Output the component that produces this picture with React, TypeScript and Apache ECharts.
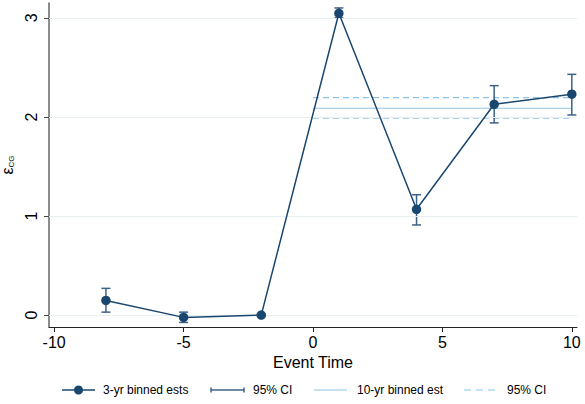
import React, { useEffect, useRef } from "react";
import * as echarts from "echarts";

const eventTimes = [-8, -5, -2, 1, 4, 7, 10];
const estimates = [0.148, -0.023, 0.0, 3.046, 1.068, 2.128, 2.23];
const ciLow = [0.03, -0.074, -0.01, 3.0, 0.91, 1.94, 2.02];
const ciHigh = [0.27, 0.03, 0.01, 3.1, 1.215, 2.316, 2.43];
const longRange = [0, 10];
const longEst = 2.088;
const longCiLow = 1.987;
const longCiHigh = 2.195;
const xTicks = [-10, -5, 0, 5, 10];
const yTicks = [0, 1, 2, 3];
const legendLabels = ["3-yr binned ests", "95% CI", "10-yr binned est", "95% CI"];

const NAVY = "#1a476f";
const CI_COLOR = "#3d6287";
const LIGHT = "#8fc3ea";
const FONT = "Liberation Sans, Arial, sans-serif";

export default function App() {
  const ref = useRef<HTMLDivElement>(null);
  useEffect(() => {
    if (!ref.current) return;
    const chart = echarts.init(ref.current, null, { renderer: "svg" });
    const ciData = eventTimes.map((x, i) => [x, ciLow[i], ciHigh[i]]);

    const ly = 390;
    const iconX = [62, 211, 314, 464];
    const iconW = 33;
    const textX = [103, 253, 357, 507];
    const legendGraphics: any[] = [];
    legendGraphics.push({ type: "line", shape: { x1: iconX[0], y1: ly, x2: iconX[0] + iconW, y2: ly }, style: { stroke: NAVY, lineWidth: 1.5 } });
    legendGraphics.push({ type: "circle", shape: { cx: iconX[0] + iconW / 2, cy: ly, r: 4.5 }, style: { fill: NAVY } });
    legendGraphics.push({ type: "line", shape: { x1: iconX[1], y1: ly, x2: iconX[1] + iconW, y2: ly }, style: { stroke: CI_COLOR, lineWidth: 1.5 } });
    legendGraphics.push({ type: "line", shape: { x1: iconX[1], y1: ly - 2.5, x2: iconX[1], y2: ly + 2.5 }, style: { stroke: CI_COLOR, lineWidth: 1.5 } });
    legendGraphics.push({ type: "line", shape: { x1: iconX[1] + iconW, y1: ly - 2.5, x2: iconX[1] + iconW, y2: ly + 2.5 }, style: { stroke: CI_COLOR, lineWidth: 1.5 } });
    legendGraphics.push({ type: "line", shape: { x1: iconX[2], y1: ly, x2: iconX[2] + iconW, y2: ly }, style: { stroke: LIGHT, lineWidth: 1.2 } });
    legendGraphics.push({ type: "line", shape: { x1: iconX[3], y1: ly, x2: iconX[3] + iconW, y2: ly }, style: { stroke: LIGHT, lineWidth: 1.2, lineDash: [7, 5] } });
    legendLabels.forEach((t, i) => {
      legendGraphics.push({
        type: "text",
        x: textX[i],
        y: ly,
        style: { text: t, fontFamily: FONT, fontSize: 12, fill: "#000", verticalAlign: "middle" },
      });
    });

    const option: any = {
      animation: false,
      backgroundColor: "#ffffff",
      grid: { left: 49, right: 8, top: 3, bottom: 77, containLabel: false, outerBoundsMode: "none" },
      graphic: legendGraphics,
      xAxis: {
        type: "value",
        min: -10.2,
        max: 10.2,
        name: "Event Time",
        nameLocation: "middle",
        nameGap: 26,
        nameTextStyle: { fontFamily: FONT, fontSize: 16, color: "#000" },
        axisLine: { onZero: false, lineStyle: { color: "#222", width: 1 } },
        axisTick: { show: true, customValues: xTicks, length: 5, lineStyle: { color: "#222" } },
        axisLabel: { customValues: xTicks, fontFamily: FONT, fontSize: 16, color: "#000", margin: 7 },
        splitLine: { show: false },
      },
      yAxis: {
        type: "value",
        min: -0.12,
        max: 3.15,
        name: "{e|ε}{s|CG}",
        nameLocation: "middle",
        nameRotate: 90,
        nameGap: 32,
        nameTextStyle: {
          rich: {
            e: { fontFamily: FONT, fontSize: 16, color: "#000", lineHeight: 18, verticalAlign: "bottom" },
            s: { fontFamily: FONT, fontSize: 8, color: "#000", lineHeight: 18, verticalAlign: "bottom", padding: [8, 0, 0, 0] },
          },
        },
        axisLine: { show: true, onZero: false, lineStyle: { color: "#666", width: 1.5 } },
        axisTick: { show: true, customValues: yTicks, length: 5, lineStyle: { color: "#444" } },
        axisLabel: { customValues: yTicks, rotate: 90, fontFamily: FONT, fontSize: 16, color: "#000", margin: 10 },
        splitLine: { show: false },
      },
      series: [
        {
          name: "grid",
          type: "line",
          data: [],
          silent: true,
          markLine: {
            silent: true,
            symbol: "none",
            label: { show: false },
            lineStyle: { color: "#e8eff1", width: 1, type: "solid" },
            data: yTicks.map((v) => ({ yAxis: v })),
          },
        },
        {
          name: "10-yr binned est",
          type: "line",
          data: longRange.map((x) => [x, longEst]),
          showSymbol: false,
          symbol: "none",
          lineStyle: { color: LIGHT, width: 1.2 },
          itemStyle: { color: LIGHT },
          z: 3,
        },
        {
          name: "95% CI upper",
          type: "line",
          data: longRange.map((x) => [x, longCiHigh]),
          showSymbol: false,
          symbol: "none",
          lineStyle: { color: LIGHT, width: 1.2, type: [6, 4] },
          itemStyle: { color: LIGHT },
          z: 3,
        },
        {
          name: "95% CI lower",
          type: "line",
          data: longRange.map((x) => [x, longCiLow]),
          showSymbol: false,
          symbol: "none",
          lineStyle: { color: LIGHT, width: 1.2, type: [6, 4] },
          itemStyle: { color: LIGHT },
          z: 3,
        },
        {
          name: "95% CI",
          type: "custom",
          data: ciData,
          itemStyle: { color: CI_COLOR },
          z: 4,
          renderItem: (params: any, api: any) => {
            const x = api.value(0);
            const lo = api.coord([x, api.value(1)]);
            const hi = api.coord([x, api.value(2)]);
            const w = 4.5;
            const style = { stroke: CI_COLOR, lineWidth: 1.5, fill: "none" };
            return {
              type: "group",
              children: [
                { type: "line", shape: { x1: lo[0], y1: lo[1], x2: hi[0], y2: hi[1] }, style },
                { type: "line", shape: { x1: lo[0] - w, y1: lo[1], x2: lo[0] + w, y2: lo[1] }, style },
                { type: "line", shape: { x1: hi[0] - w, y1: hi[1], x2: hi[0] + w, y2: hi[1] }, style },
              ],
            };
          },
        },
        {
          name: "3-yr binned ests",
          type: "line",
          data: eventTimes.map((x, i) => [x, estimates[i]]),
          symbol: "circle",
          symbolSize: 9.5,
          lineStyle: { color: NAVY, width: 1.5 },
          itemStyle: { color: NAVY },
          z: 5,
        },
      ],
    };
    chart.setOption(option);
    return () => chart.dispose();
  }, []);
  return (
    <div
      ref={ref}
      style={{ position: "fixed", left: 0, top: 0, width: 585, height: 404, background: "#fff" }}
    />
  );
}
